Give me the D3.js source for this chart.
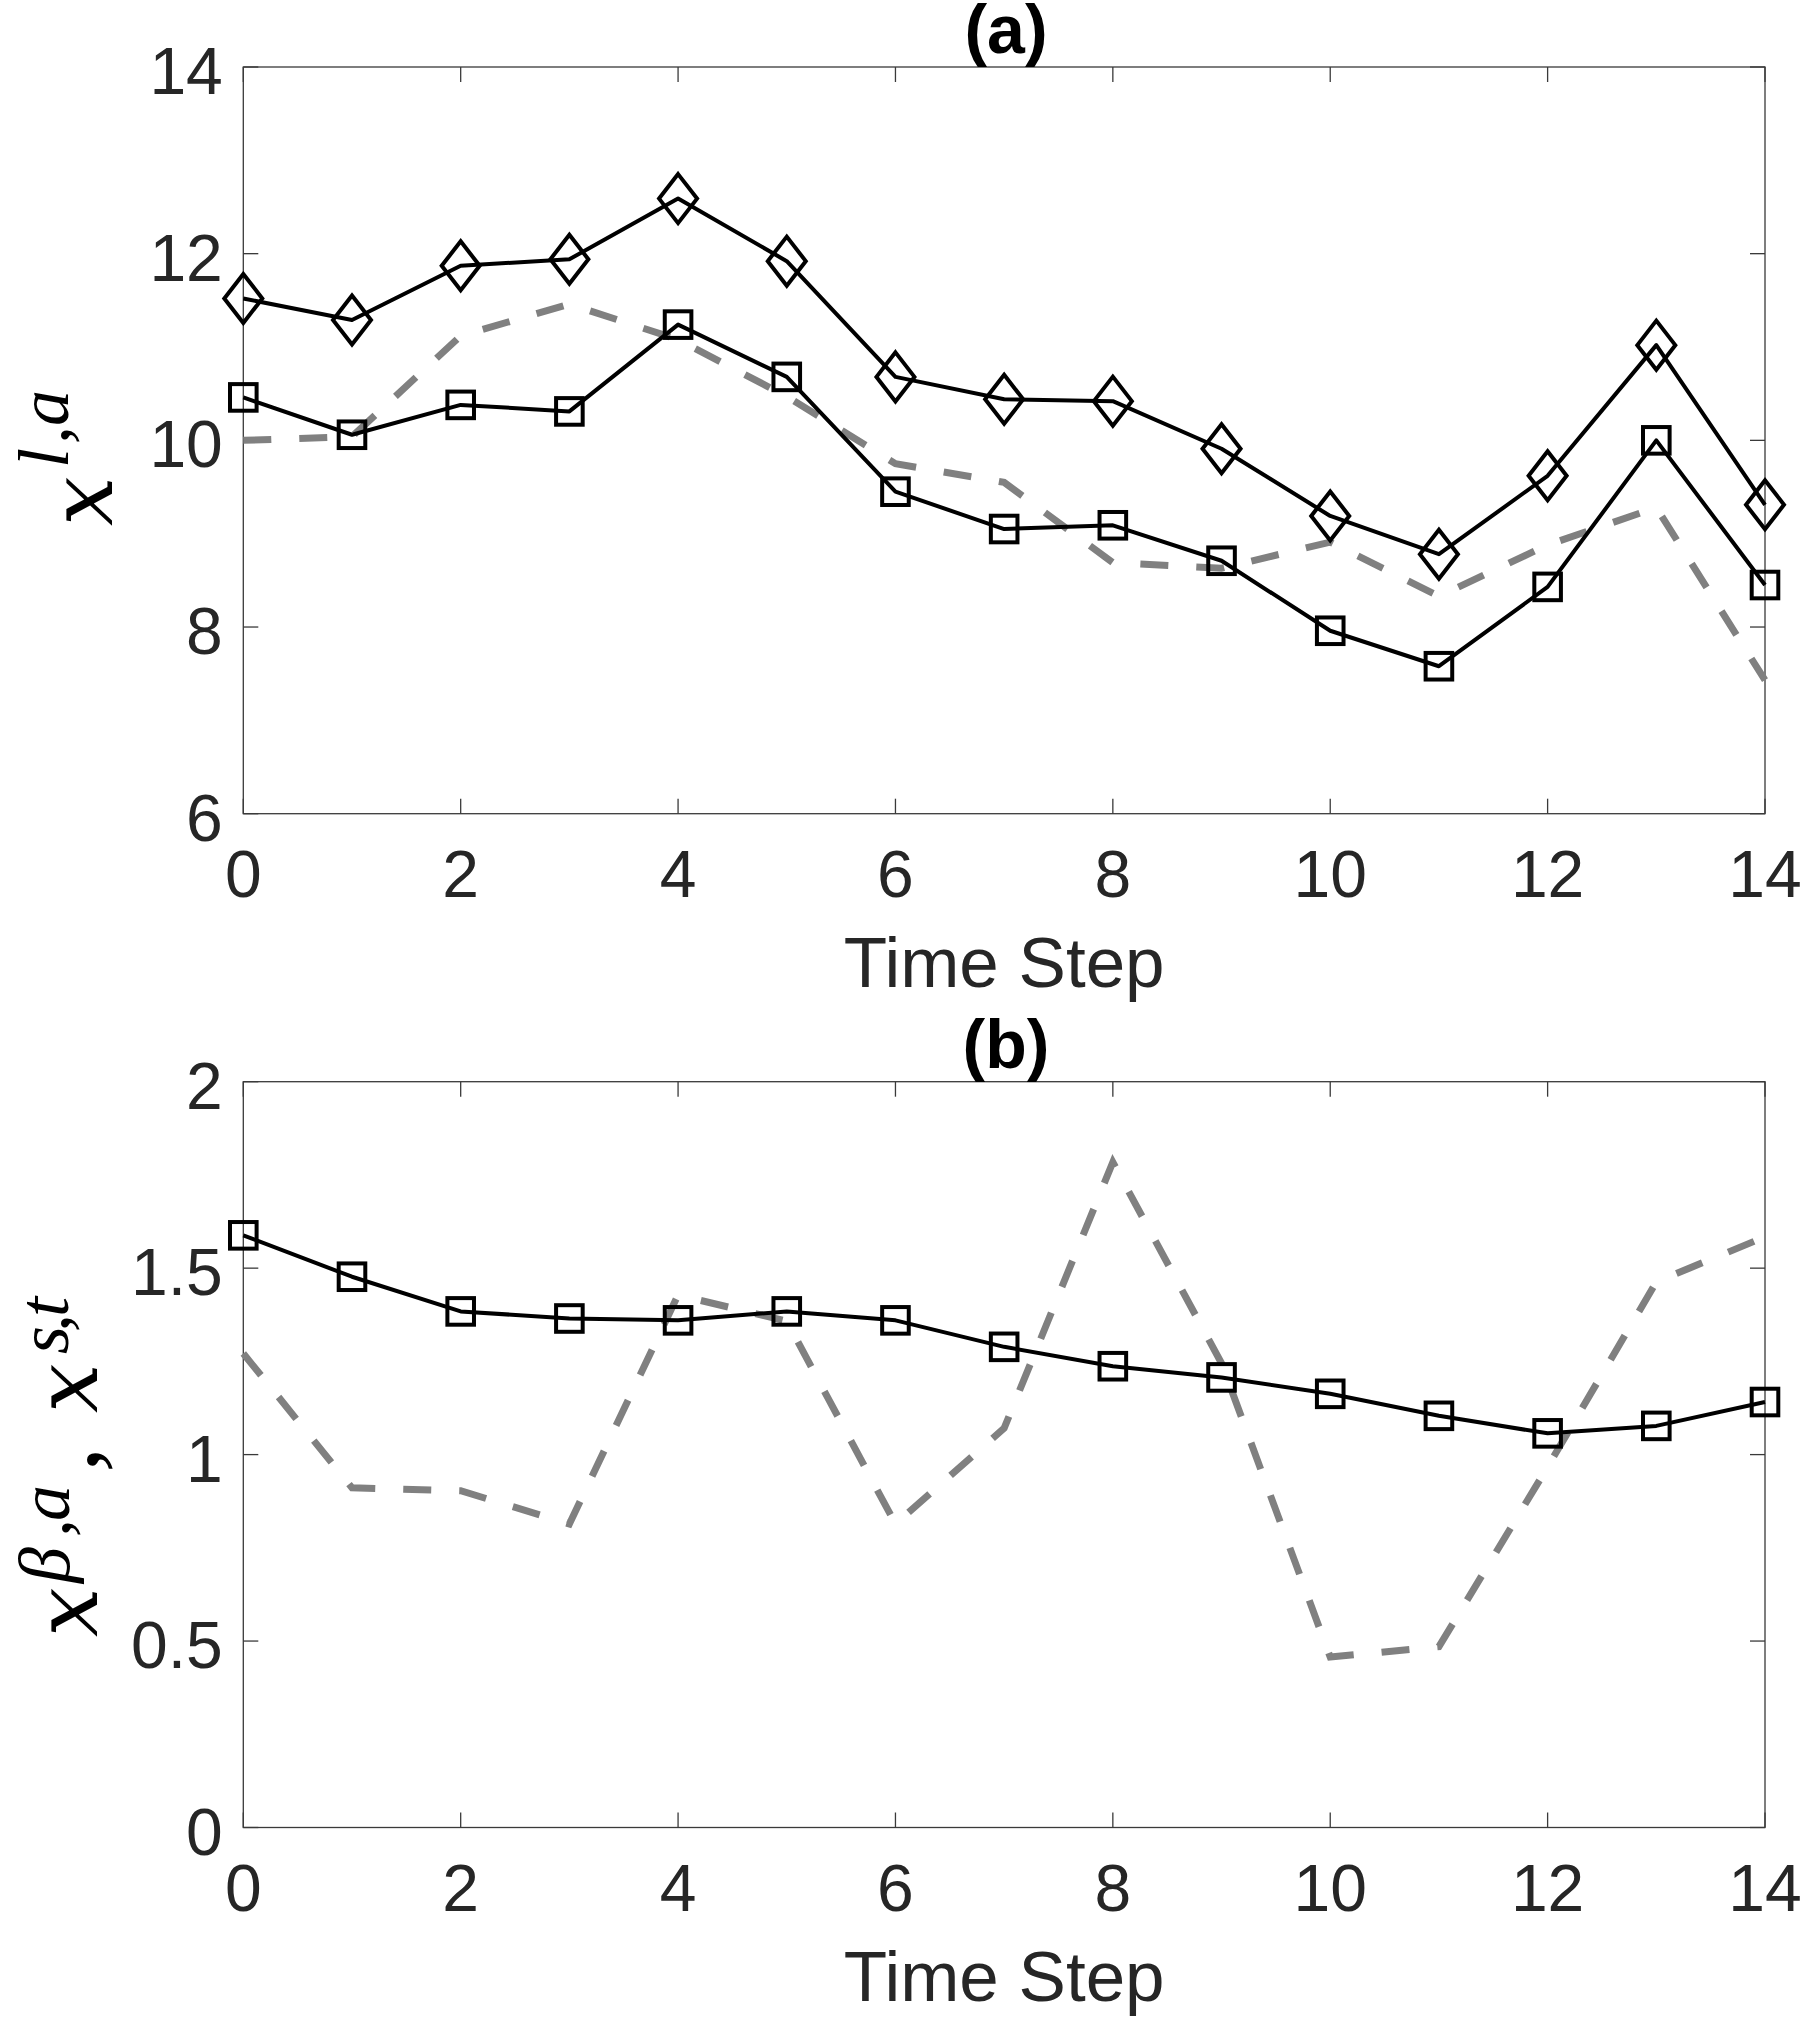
<!DOCTYPE html>
<html><head><meta charset="utf-8">
<script src="https://cdn.jsdelivr.net/npm/d3@7"></script>
<style>body{margin:0;background:#fff} svg{display:block}</style>
</head><body><svg id="c" width="1800" height="2017"></svg>
<script>
// ---- data ----
const timeSteps = [0,1,2,3,4,5,6,7,8,9,10,11,12,13,14];
const xTicks = [0,2,4,6,8,10,12,14];
const yTicksA = [6,8,10,12,14];
const yTicksB = [0,0.5,1,1.5,2];
const aDiamond = [11.52,11.29,11.87,11.94,12.59,11.92,10.68,10.44,10.42,9.91,9.19,8.78,9.62,11.02,9.31];
const aSquare  = [10.46,10.06,10.38,10.31,11.24,10.68,9.45,9.05,9.09,8.71,7.96,7.58,8.43,10.00,8.45];
const aDashed  = [10.00,10.04,11.12,11.46,11.08,10.47,9.75,9.55,8.69,8.63,8.91,8.33,8.88,9.28,7.43];
const bSquare  = [1.588,1.477,1.384,1.365,1.360,1.384,1.360,1.289,1.237,1.207,1.163,1.104,1.057,1.077,1.141];
const bDashed  = [1.271,0.911,0.903,0.814,1.428,1.358,0.814,1.071,1.784,1.245,0.457,0.485,0.967,1.463,1.584];

const svg = d3.select('#c');
const X0 = 243.3, X1 = 1765;
const x = d3.scaleLinear().domain([0,14]).range([X0, X1]);
const SANS = "'Liberation Sans', Arial, Helvetica, sans-serif";
const SERIF = "'Liberation Serif', 'Times New Roman', serif";
const XSERIF = "'DejaVu Serif', serif";
const AX = '#3a3a3a';

function panel(cfg){
  const y = d3.scaleLinear().domain(cfg.domain).range([cfg.bottom, cfg.top]);
  const g = svg.append('g');
  g.append('rect').attr('x',X0).attr('y',cfg.top).attr('width',X1-X0).attr('height',cfg.bottom-cfg.top)
    .attr('fill','none').attr('stroke',AX).attr('stroke-width',1.3);
  const TL = 15;
  xTicks.forEach(v=>{
    g.append('line').attr('x1',x(v)).attr('x2',x(v)).attr('y1',cfg.bottom).attr('y2',cfg.bottom-TL).attr('stroke',AX).attr('stroke-width',1.3);
    g.append('line').attr('x1',x(v)).attr('x2',x(v)).attr('y1',cfg.top).attr('y2',cfg.top+TL).attr('stroke',AX).attr('stroke-width',1.3);
    g.append('text').attr('x',x(v)).attr('y',cfg.bottom+83).attr('text-anchor','middle')
      .attr('font-family',SANS).attr('font-size',66).attr('fill','#262626').text(String(v));
  });
  cfg.yticks.forEach(v=>{
    g.append('line').attr('x1',X0).attr('x2',X0+TL).attr('y1',y(v)).attr('y2',y(v)).attr('stroke',AX).attr('stroke-width',1.3);
    g.append('line').attr('x1',X1).attr('x2',X1-TL).attr('y1',y(v)).attr('y2',y(v)).attr('stroke',AX).attr('stroke-width',1.3);
    g.append('text').attr('x',X0-20.5).attr('y',y(v)+27).attr('text-anchor','end')
      .attr('font-family',SANS).attr('font-size',66).attr('fill','#262626').text(String(v));
  });
  g.append('text').attr('x',(X0+X1)/2).attr('y',cfg.bottom+173).attr('text-anchor','middle')
    .attr('font-family',SANS).attr('font-size',71).attr('fill','#262626').text('Time Step');
  g.append('text').attr('x',1006).attr('y',cfg.top-14).attr('text-anchor','middle')
    .attr('font-family',SANS).attr('font-weight','bold').attr('font-size',68).attr('fill','#000').text(cfg.title);
  const lg = g.append('g').attr('transform',`translate(${cfg.labelOrigin[0]},${cfg.labelOrigin[1]}) rotate(-90)`);
  cfg.labelPieces.forEach(p=>{
    lg.append('text').attr('x',p[1]).attr('y',p[2])
      .attr('font-family',p[0]==='x'?XSERIF:SERIF).attr('font-style','italic')
      .attr('font-size',p[0]==='x'?88:p[3]).attr('fill','#000').text(p[0]);
  });
  const line = d3.line().x((d,i)=>x(timeSteps[i])).y(d=>y(d));
  cfg.series.forEach(s=>{
    if(s.dashed){
      g.append('path').datum(s.values).attr('d',line).attr('fill','none').attr('stroke','#808080')
        .attr('stroke-width',7).attr('stroke-dasharray','28,28');
    }
  });
  cfg.series.forEach(s=>{
    if(s.dashed) return;
    g.append('path').datum(s.values).attr('d',line).attr('fill','none').attr('stroke','#000')
      .attr('stroke-width',4).attr('stroke-linejoin','round');
    const m = g.selectAll(null).data(s.values).enter();
    if(s.marker==='square'){
      m.append('rect').attr('x',(d,i)=>x(timeSteps[i])-13.3).attr('y',d=>y(d)-13.3)
        .attr('width',26.6).attr('height',26.6).attr('fill','none').attr('stroke','#000').attr('stroke-width',4);
    } else {
      m.append('path').attr('transform',(d,i)=>`translate(${x(timeSteps[i])},${y(d)})`)
        .attr('d','M0,-24.5L19,0L0,24.5L-19,0Z').attr('fill','none').attr('stroke','#000').attr('stroke-width',4);
    }
  });
}

panel({
  top: 67, bottom: 813.7, domain:[6,14], yticks:yTicksA, title:'(a)',
  labelOrigin:[112, 524],
  labelPieces:[['x',-2,0,100],['l',56,-44,72],[',',80,-44,72],['a',98,-44,72]],
  series:[{values:aDashed,dashed:true},{values:aDiamond,marker:'diamond'},{values:aSquare,marker:'square'}]
});
panel({
  top: 1081.7, bottom: 1827.5, domain:[0,2], yticks:yTicksB, title:'(b)',
  labelOrigin:[97, 1635],
  labelPieces:[['x',-2,0,100],['β',52,-28,72],[',',98,-28,72],['a',114,-28,72],[',',163,0,100],
               ['x',222,0,100],['s',281,-29,72],[',',303,-29,72],['t',318,-29,72]],
  series:[{values:bDashed,dashed:true},{values:bSquare,marker:'square'}]
});
</script></body></html>
